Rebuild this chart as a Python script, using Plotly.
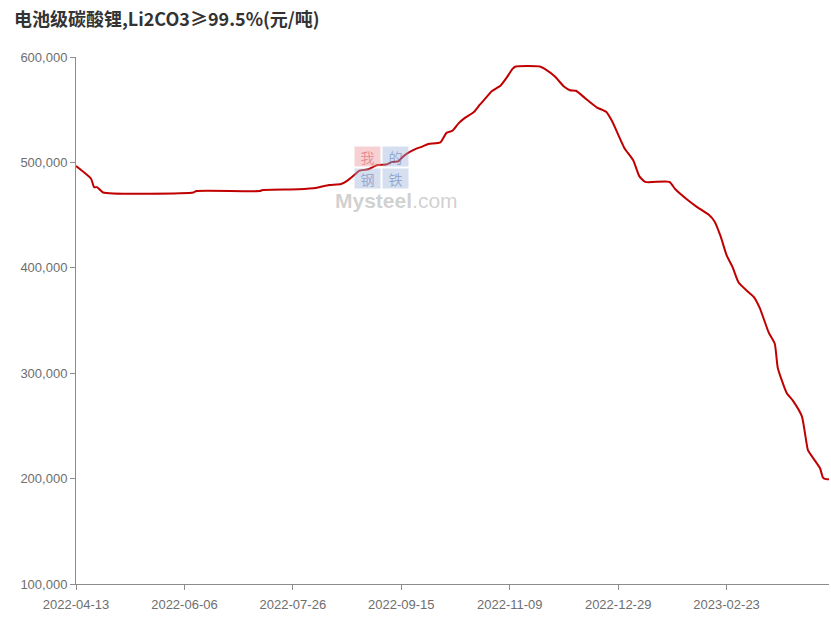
import plotly.graph_objects as go

title_text = "电池级碳酸锂,Li2CO3≥99.5%(元/吨)"

# trading-day index (36 trading days between labelled ticks)
day_index = [0, 5, 6, 7, 9, 39, 40, 61, 62, 74, 80, 84, 88, 90, 92, 94, 97, 100,
             103, 105, 107, 108, 110, 113, 115, 117, 121, 123, 125, 127, 129, 132,
             134, 136, 138, 141, 143, 145, 146, 154, 156, 159, 162, 164, 166, 169,
             173, 176, 178, 182, 185, 187, 189, 197, 199, 203, 206, 210, 212, 214,
             216, 218, 220, 223, 225, 227, 230, 232, 233, 236, 238, 241, 243, 244,
             247, 248, 249, 250]
price = [496500, 484500, 476500, 476500, 471500, 471500, 472800, 472800, 473800,
         474500, 476000, 478500, 479500, 482500, 487000, 492000, 493500, 497500,
         498000, 500500, 501000, 504000, 508500, 513000, 515000, 517500, 519000,
         528000, 530000, 537000, 542000, 547500, 554500, 561000, 567500, 573000,
         580500, 589000, 591000, 591000, 588000, 581500, 572000, 568500, 568000,
         561000, 552000, 548000, 539000, 514000, 502000, 487000, 481500, 481500,
         474500, 464500, 458000, 450500, 444000, 430000, 412000, 400500, 386000,
         377500, 372500, 362000, 338500, 328000, 305000, 281000, 274000, 259000,
         227000, 222500, 210000, 201000, 199500, 199500]

tick_index = [0, 36, 72, 108, 144, 180, 216]
tick_labels = ["2022-04-13", "2022-06-06", "2022-07-26", "2022-09-15",
               "2022-11-09", "2022-12-29", "2023-02-23"]
y_ticks = [100000, 200000, 300000, 400000, 500000, 600000]

FONT = "Liberation Sans, Arial, Noto Sans CJK SC, sans-serif"
AXIS_GRAY = "#8c8c8c"
LABEL_GRAY = "#6e6e6e"

L, T, R, B = 76, 57, 829, 584
W, H = 831, 643
PW, PH = R - L, B - T


def px(xp):
    return (xp - L) / PW


def py(yp):
    return 1 - (yp - T) / PH


fig = go.Figure()
fig.add_trace(go.Scatter(
    x=day_index, y=price, mode="lines",
    line=dict(color="#c00000", width=2, shape="spline", smoothing=0.5),
    hoverinfo="skip", showlegend=False, cliponaxis=False,
))

fig.update_layout(
    width=W, height=H,
    margin=dict(l=L, r=W - R, t=T, b=H - B, autoexpand=False),
    paper_bgcolor="white", plot_bgcolor="white",
    font=dict(family=FONT, size=13, color=LABEL_GRAY),
    xaxis=dict(
        range=[0, 250], tickmode="array", tickvals=tick_index, ticktext=tick_labels,
        showgrid=False, zeroline=False, showline=True, linecolor=AXIS_GRAY, linewidth=1,
        ticks="outside", ticklen=5, tickcolor=AXIS_GRAY, tickfont=dict(size=13, color=LABEL_GRAY),
        ticklabelstandoff=3,
    ),
    yaxis=dict(
        range=[100000, 600000], tickmode="array", tickvals=y_ticks,
        ticktext=[f"{v:,}" for v in y_ticks],
        showgrid=False, zeroline=False, showline=True, linecolor=AXIS_GRAY, linewidth=1,
        ticks="outside", ticklen=5, tickcolor=AXIS_GRAY, tickfont=dict(size=13, color=LABEL_GRAY),
    ),
    annotations=[
        dict(text="<b>" + title_text + "</b>", xref="paper", yref="paper",
             x=px(12), y=py(18), xanchor="left", yanchor="middle", showarrow=False,
             font=dict(family="Noto Sans CJK SC, Liberation Sans, sans-serif", size=18, color="#333333")),
    ],
)

# watermark (Mysteel logo) as faded text
wm = [
    ("我", 367, 156, "rgba(235,150,158,0.45)", "rgba(215,60,70,0.45)"),
    ("的", 395, 156, "rgba(150,175,215,0.40)", "rgba(60,100,170,0.45)"),
    ("钢", 367, 178, "rgba(150,175,215,0.40)", "rgba(60,100,170,0.45)"),
    ("铁", 395, 178, "rgba(150,175,215,0.40)", "rgba(60,100,170,0.45)"),
]
for ch, xp, yp, bg, fg in wm:
    fig.add_annotation(
        text=ch, xref="paper", yref="paper",
        x=px(xp), y=py(yp), xanchor="center", yanchor="middle",
        showarrow=False, bgcolor=bg, width=25, height=19, borderpad=0,
        font=dict(family="Noto Sans CJK SC", size=14, color=fg),
    )
fig.add_annotation(
    text="<b>Mysteel</b>.com", xref="paper", yref="paper",
    x=px(396), y=py(200), xanchor="center", yanchor="middle",
    showarrow=False, font=dict(family="Liberation Sans", size=21, color="rgba(170,170,170,0.55)"),
)

fig.write_html(
    "out.html",
    config={"displayModeBar": False, "staticPlot": True},
    post_script="document.body.style.margin='0';document.body.style.padding='0';"
                "document.body.style.overflow='hidden';"
                "document.documentElement.style.overflow='hidden';",
)
